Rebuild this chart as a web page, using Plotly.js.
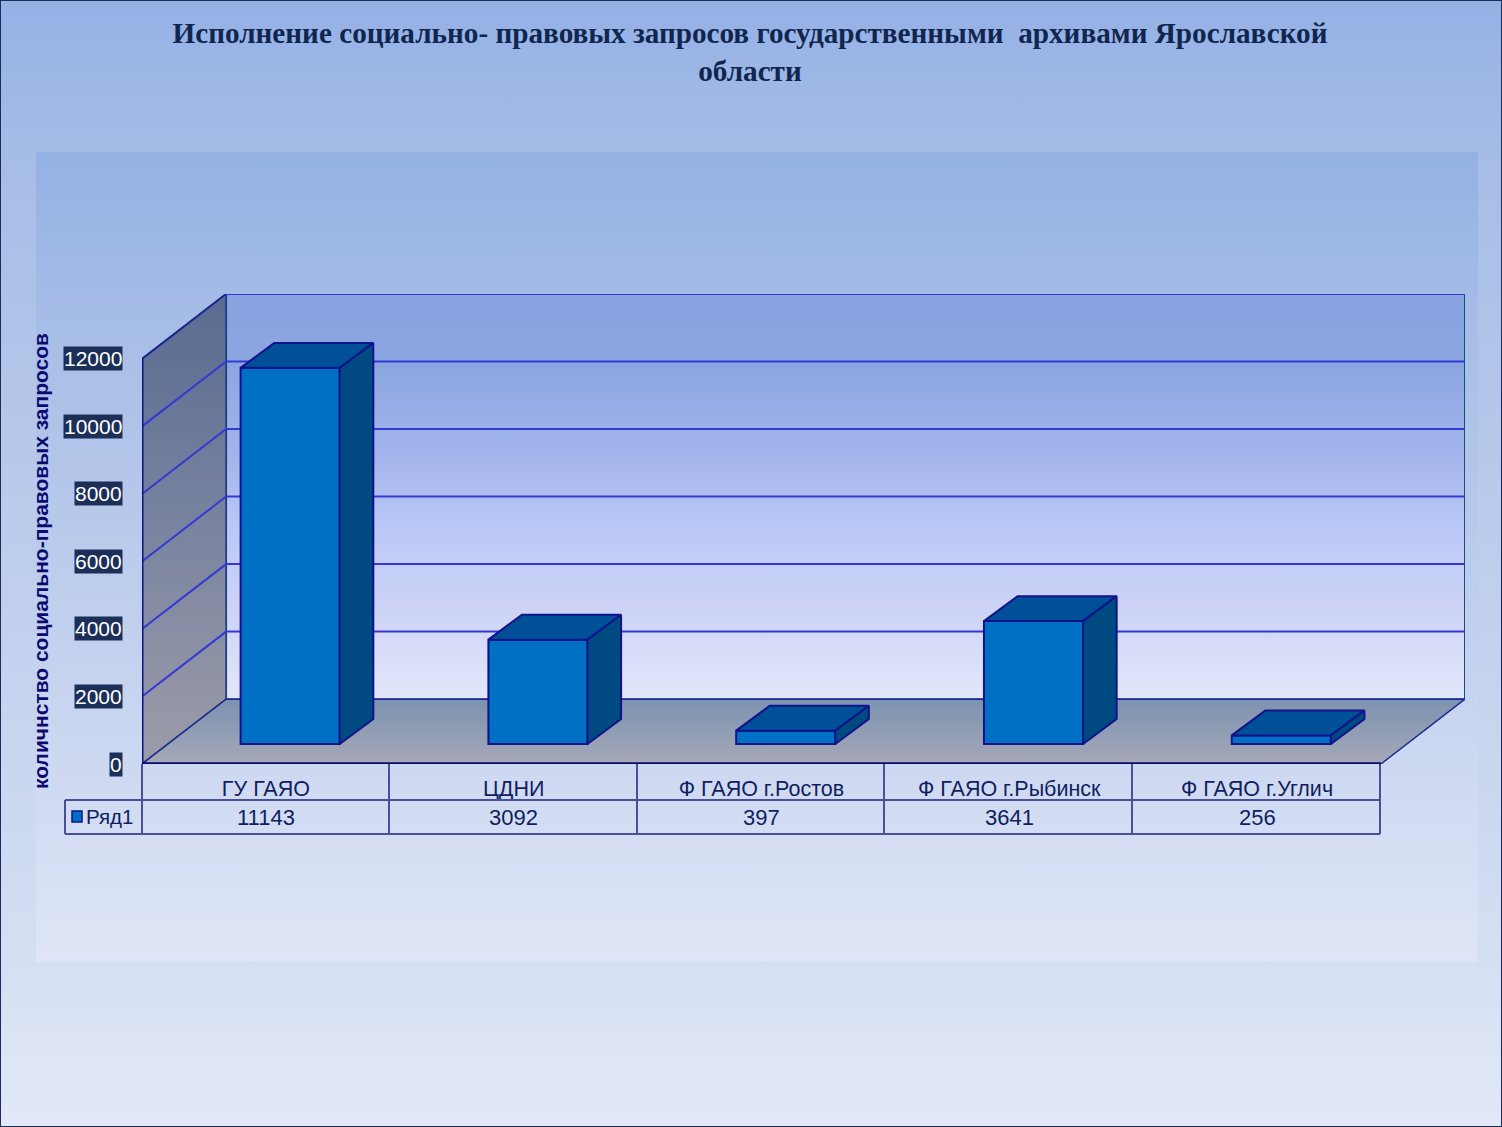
<!DOCTYPE html>
<html><head><meta charset="utf-8">
<script src="https://cdn.plot.ly/plotly-3.0.1.min.js"></script>
<style>
html,body{margin:0;padding:0;width:1502px;height:1127px;overflow:hidden}
#bg{position:absolute;left:0;top:0;width:1500px;height:1125px;border:1px solid #1c2c5c;
background:linear-gradient(180deg,#94b1e6 0,#a5bce6 150px,#d5dff3 960px,#e2e8f7 100%)}
#panel{position:absolute;left:36px;top:152px;width:1442px;height:810px;
background:linear-gradient(180deg,#94b1e4 0,#a9bfe7 25%,#dfe5f6 100%)}
#chart{position:absolute;left:0;top:0;width:1502px;height:1127px}
</style></head><body>
<div id="bg"></div><div id="panel"></div><div id="chart"></div>
<script>
const categories = ['ГУ ГАЯО','ЦДНИ','Ф ГАЯО г.Ростов','Ф ГАЯО г.Рыбинск','Ф ГАЯО г.Углич'];
const values = [11143,3092,397,3641,256];
const seriesName = 'Ряд1';
const yTicks = [0,2000,4000,6000,8000,10000,12000];
const titleText = 'Исполнение социально- правовых запросов государственными\u00a0 архивами Ярославской<br>области';
const yTitle = 'количнство социально-правовых запросов';

// plot frame in page pixels
const L=142,R=1465,T=294,B=764;
const W=1502,H=1127;
const wallX=0.3393, wallY=1921;          // depth of the floor, axis units
const yMax=12000, n=categories.length;
const xRange=[0,n+wallX], yRange=[0,yMax+wallY];
const barW=0.4, barShift=0.098, barBase=591, barDX=0.1355, barDY=739;
const px=x=>(x-L)/(R-L), py=y=>(B-y)/(B-T);

const EDGE='#12128c', GRID='#3438d4';
function poly(xs,ys,color,extra,axes){
  return Object.assign({x:xs,y:ys,mode:'lines',fill:'toself',fillcolor:color,
    line:{color:EDGE,width:2},hoverinfo:'skip',showlegend:false},axes||{},extra||{});
}
function line(xs,ys,color,w){
  return {x:xs,y:ys,mode:'lines',line:{color:color,width:w},hoverinfo:'skip',showlegend:false};
}
function grad(stops){return {type:'vertical',colorscale:stops};}

const traces=[];
// back wall
traces.push(poly([wallX,n+wallX,n+wallX,wallX,wallX],[wallY,wallY,yMax+wallY,yMax+wallY,wallY],'#c0c8f5',
 {line:{color:'#2a3fc0',width:2},fillgradient:grad([[0,'#e3e7fb'],[0.22,'#cdd3f6'],[0.43,'#bac8f7'],[0.58,'#a5b6ec'],[0.82,'#8ca6e2'],[1,'#88a3df']])}));
// side wall
traces.push(poly([0,wallX,wallX,0,0],[0,wallY,yMax+wallY,yMax,0],'#777f9b',
 {line:{color:'#1c3a7a',width:1.5},fillgradient:grad([[0,'#9c9ca8'],[0.5,'#7a84a0'],[1,'#586b90']])}));
// floor
traces.push(poly([0,n,n+wallX,wallX,0],[0,0,wallY,wallY,0],'#90a0b4',
 {line:{color:'#1a2a90',width:1.5},fillgradient:grad([[0,'#a6a8b8'],[1,'#7c92b0']])}));
// gridlines
yTicks.slice(1).forEach(v=>{
  traces.push(line([wallX,n+wallX],[v+wallY,v+wallY],GRID,2));
  traces.push(line([0,wallX],[v,v+wallY],GRID,2));
});
// strong edges
traces.push(line([0,0],[0,yMax],'#0c1484',3));
traces.push(line([0,n],[0,0],'#0c0c70',3.5));
traces.push(line([n+wallX,n+wallX],[wallY,yMax+wallY],'#14507a',2));
traces.push(line([0,wallX],[yMax,yMax+wallY],'#1c2a70',1.5));

// bars on the overlay subplot so that they sit in front of the walls
const over={xaxis:'x2',yaxis:'y2'};
const cx=categories.map((c,i)=>i+0.5);
traces.push({type:'bar',x:cx.map(c=>c+barShift),y:values,base:values.map(()=>barBase),width:barW,
  marker:{color:'#0070c4',line:{color:EDGE,width:2}},name:seriesName,hoverinfo:'skip',showlegend:false,xaxis:'x2',yaxis:'y2'});
values.forEach((v,i)=>{
  const a=cx[i]+barShift-barW/2, b=cx[i]+barShift+barW/2, y0=barBase, y1=barBase+v;
  traces.push(poly([a,b,b+barDX,a+barDX,a],[y1,y1,y1+barDY,y1+barDY,y1],'#005097',{},over));
  traces.push(poly([b,b+barDX,b+barDX,b,b],[y0,y0+barDY,y1+barDY,y1,y0],'#004a82',{},over));
});

const TXT='#0f1f5f', TAB='#4a4f9a';
const shapes=[];
function seg(x0,y0,x1,y1,c,w){shapes.push({type:'line',xref:'paper',yref:'paper',x0:px(x0),x1:px(x1),y0:py(y0),y1:py(y1),line:{color:c||TAB,width:w||2}});}
const colEdges=[142,389,637,884,1132,1380];
colEdges.forEach(x=>seg(x,764,x,834));
seg(65,800,1380,800); seg(65,834,1380,834); seg(65,800,65,834);
shapes.push({type:'rect',xref:'paper',yref:'paper',x0:px(72),x1:px(82),y0:py(811),y1:py(822),fillcolor:'#0070c4',line:{color:'#12128c',width:1.5}});

const anns=[];
// value labels of the axis, on dark plates
yTicks.forEach(v=>anns.push({xref:'x',yref:'y',x:0,y:v,xanchor:'right',yanchor:'middle',xshift:-19,showarrow:false,
  text:String(v),font:{family:'Liberation Sans',size:21,color:'#ffffff'},bgcolor:'#1b2f58',borderpad:0}));
// table row
values.forEach((v,i)=>anns.push({xref:'x',yref:'paper',x:cx[i],y:py(817),xanchor:'center',yanchor:'middle',showarrow:false,
  text:String(v),font:{family:'Liberation Sans',size:22,color:TXT}}));
anns.push({xref:'paper',yref:'paper',x:px(86),y:py(816),xanchor:'left',yanchor:'middle',showarrow:false,
  text:seriesName,font:{family:'Liberation Sans',size:20.5,color:TXT},xshift:-2});
// value-axis title
anns.push({xref:'paper',yref:'paper',x:px(40),y:py(561),xanchor:'center',yanchor:'middle',textangle:-90,showarrow:false,
  text:yTitle,font:{family:'Liberation Sans',size:21,color:'#0a0a70',weight:700}});

const layout={
  width:W,height:H,paper_bgcolor:'rgba(0,0,0,0)',plot_bgcolor:'rgba(0,0,0,0)',
  margin:{l:L,r:W-R,t:T,b:H-B,pad:0},showlegend:false,
  title:{text:titleText,x:750/W,xanchor:'center',y:1-43/H,yanchor:'middle',
    font:{family:'Liberation Serif',size:29.2,color:'#10264f',weight:700}},
  xaxis:{range:xRange,tickmode:'array',tickvals:cx,ticktext:categories,showgrid:false,zeroline:false,showline:false,
    ticks:'',ticklabelstandoff:9,tickangle:0,tickfont:{family:'Liberation Sans',size:21.5,color:TXT},fixedrange:true},
  yaxis:{range:yRange,tickmode:'array',tickvals:yTicks,showticklabels:false,showgrid:false,zeroline:false,showline:false,ticks:'',fixedrange:true},
  xaxis2:{range:xRange,overlaying:'x',visible:false,fixedrange:true},
  yaxis2:{range:yRange,overlaying:'y',visible:false,fixedrange:true},
  shapes:shapes,annotations:anns,bargap:0
};
Plotly.newPlot('chart',traces,layout,{displayModeBar:false,staticPlot:true});
</script></body></html>
